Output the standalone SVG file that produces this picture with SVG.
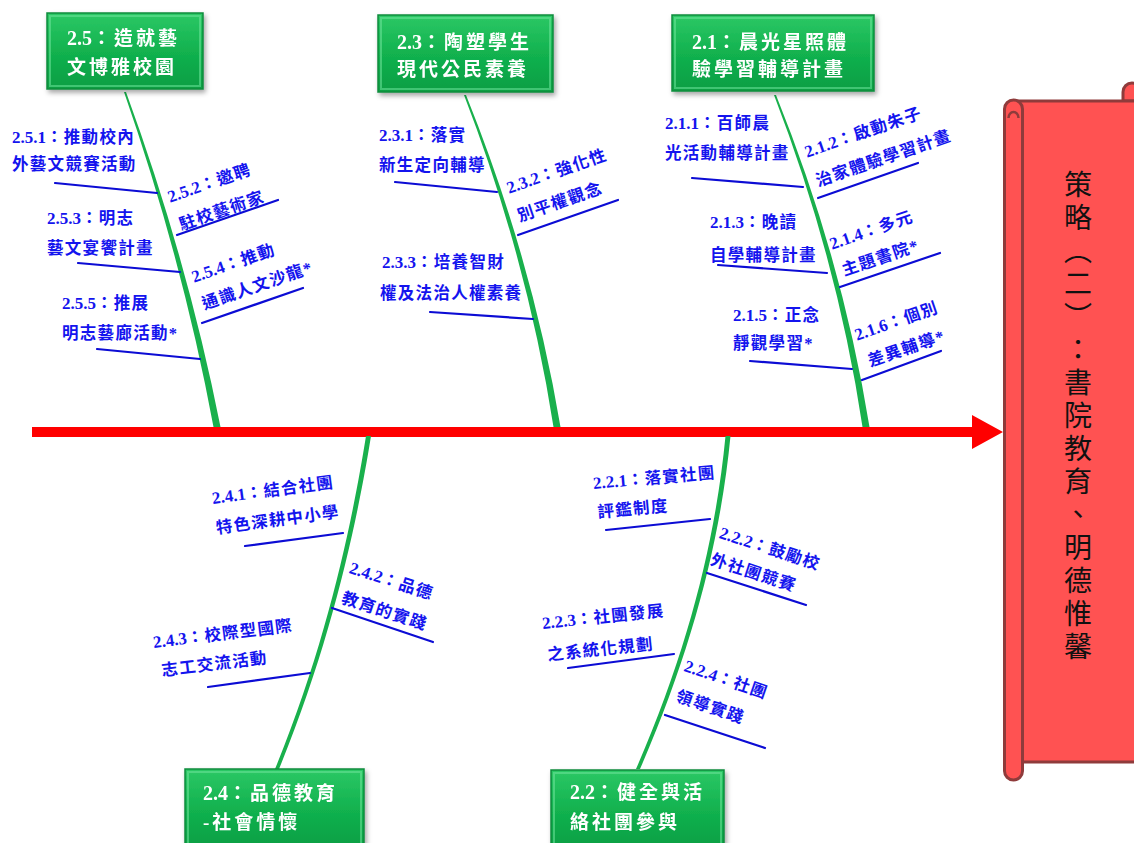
<svg xmlns="http://www.w3.org/2000/svg" width="1134" height="843" viewBox="0 0 1134 843">
<defs>
<linearGradient id="gBox" x1="0" y1="0" x2="0" y2="1">
<stop offset="0" stop-color="#2cc865"/>
<stop offset="0.5" stop-color="#12b24f"/>
<stop offset="1" stop-color="#0a9e43"/>
</linearGradient>
<filter id="sh" x="-10%" y="-10%" width="130%" height="140%">
<feDropShadow dx="2" dy="3" stdDeviation="2.5" flood-color="#000" flood-opacity="0.35"/>
</filter>
<style>
.box{fill:url(#gBox);stroke:#0b8c3c;stroke-width:1.5}
.bev{fill:none;stroke:#6fe39a;stroke-opacity:0.55;stroke-width:2}
.bt{font-family:"Liberation Serif","Noto Sans CJK TC",serif;font-weight:700;font-size:19px;letter-spacing:3px;fill:#ffffff}
.bt .n{letter-spacing:0;font-size:20px}
.lb{font-family:"Liberation Serif","Noto Sans CJK TC",serif;font-weight:700;font-size:16.5px;letter-spacing:1.3px;fill:#1414ee}
.lb .n{letter-spacing:0;font-size:17px}
.bl{stroke:#0c0cd4;stroke-width:2.2;fill:none;stroke-linecap:round}
.sp{fill:#19b04c}
.scr{fill:#ff5252;stroke:#8f3b3b;stroke-width:3}
.vt{font-family:"Noto Sans CJK TC",sans-serif;font-size:28px;letter-spacing:5px;fill:#111;writing-mode:vertical-rl}
</style>
</defs>
<rect width="1134" height="843" fill="#ffffff"/>

<g id="scroll">
<path class="scr" d="M1123,101 V92 A9,9 0 0 1 1141,92 V101 Z"/>
<rect class="scr" x="1018" y="101" width="130" height="661"/>
<rect class="scr" x="1004.5" y="100" width="18" height="680" rx="9"/>
<path d="M1008.5,118 A5,6 0 1 1 1018.5,118" fill="none" stroke="#8f3b3b" stroke-width="2.5"/>
<text class="vt" x="1078" y="170">策略（二）：書院教育、明德惟馨</text>
</g>

<g id="connectors">
<path d="M32,427 H972 V415 L1003,432 L972,449 V437 H32 Z" fill="#ff0000"/>
<path class="sp" d="M124,92 Q182.5,260 213.5,427 L220.5,427 Q187.5,260 126,92 Z"/>
<path class="sp" d="M464,95 Q527.5,260 553.5,427 L560.5,427 Q532.5,260 466,95 Z"/>
<path class="sp" d="M774,95 Q837.5,260 862.5,427 L869.5,427 Q842.5,260 776,95 Z"/>
<path class="sp" d="M366,436 C352.5,520 328,640 275,769 L279,769 C332,640 357.5,520 371,436 Z"/>
<path class="sp" d="M725.5,436 C715.5,540 688,650 636,769 L640,769 C692,650 720.5,540 730.5,436 Z"/>
<line class="bl" x1="55" y1="183" x2="157" y2="193"/>
<line class="bl" x1="177" y1="235" x2="278" y2="200"/>
<line class="bl" x1="78" y1="263" x2="180" y2="272"/>
<line class="bl" x1="202" y1="323" x2="303" y2="288"/>
<line class="bl" x1="97" y1="349" x2="200" y2="359"/>
<line class="bl" x1="395" y1="182" x2="497" y2="192"/>
<line class="bl" x1="518" y1="235" x2="618" y2="200"/>
<line class="bl" x1="430" y1="312" x2="533" y2="319"/>
<line class="bl" x1="692" y1="178" x2="803" y2="187"/>
<line class="bl" x1="818" y1="198" x2="918" y2="163"/>
<line class="bl" x1="718" y1="265" x2="827" y2="273"/>
<line class="bl" x1="840" y1="287" x2="940" y2="253"/>
<line class="bl" x1="750" y1="361" x2="852" y2="369"/>
<line class="bl" x1="862" y1="380" x2="941" y2="351"/>
<line class="bl" x1="245" y1="546" x2="343" y2="533"/>
<line class="bl" x1="332" y1="608" x2="433" y2="642"/>
<line class="bl" x1="208" y1="687" x2="310" y2="673"/>
<line class="bl" x1="606" y1="530" x2="710" y2="519"/>
<line class="bl" x1="707" y1="573" x2="806" y2="605"/>
<line class="bl" x1="568" y1="668" x2="674" y2="654"/>
<line class="bl" x1="665" y1="715" x2="765" y2="748"/>
</g>

<g id="n2-5" filter="url(#sh)">
<rect class="box" x="47" y="13" width="156" height="76"/>
<rect class="bev" x="50" y="16" width="150" height="70"/>
<text class="bt" x="67" y="45"><tspan class="n">2.5</tspan>：造就藝</text>
<text class="bt" x="67" y="74">文博雅校園</text>
</g>
<g id="n2-3" filter="url(#sh)">
<rect class="box" x="378" y="15" width="175" height="77"/>
<rect class="bev" x="381" y="18" width="169" height="71"/>
<text class="bt" x="397" y="49"><tspan class="n">2.3</tspan>：陶塑學生</text>
<text class="bt" x="397" y="76">現代公民素養</text>
</g>
<g id="n2-1" filter="url(#sh)">
<rect class="box" x="672" y="15" width="202" height="76"/>
<rect class="bev" x="675" y="18" width="196" height="70"/>
<text class="bt" x="692" y="49"><tspan class="n">2.1</tspan>：晨光星照體</text>
<text class="bt" x="692" y="76">驗學習輔導計畫</text>
</g>
<g id="n2-4" filter="url(#sh)">
<rect class="box" x="185" y="769" width="179" height="80"/>
<rect class="bev" x="188" y="772" width="173" height="74"/>
<text class="bt" x="203" y="800"><tspan class="n">2.4</tspan>：品德教育</text>
<text class="bt" x="203" y="829">-社會情懷</text>
</g>
<g id="n2-2" filter="url(#sh)">
<rect class="box" x="551" y="770" width="173" height="80"/>
<rect class="bev" x="554" y="773" width="167" height="74"/>
<text class="bt" x="570" y="799"><tspan class="n">2.2</tspan>：健全與活</text>
<text class="bt" x="570" y="829">絡社團參與</text>
</g>

<g id="l2-5-1"><text class="lb" x="12" y="143"><tspan class="n">2.5.1</tspan>：推動校內</text><text class="lb" x="12" y="170">外藝文競賽活動</text></g>
<g id="l2-5-2" transform="translate(168,197) rotate(-19)"><text class="lb" x="0" y="6"><tspan class="n">2.5.2</tspan>：邀聘</text><text class="lb" x="2" y="36">駐校藝術家</text></g>
<g id="l2-5-3"><text class="lb" x="47" y="224"><tspan class="n">2.5.3</tspan>：明志</text><text class="lb" x="47" y="254">藝文宴饗計畫</text></g>
<g id="l2-5-4" transform="translate(192,277) rotate(-19)"><text class="lb" x="0" y="6"><tspan class="n">2.5.4</tspan>：推動</text><text class="lb" x="1" y="35">通識人文沙龍*</text></g>
<g id="l2-5-5"><text class="lb" x="62" y="309"><tspan class="n">2.5.5</tspan>：推展</text><text class="lb" x="62" y="339">明志藝廊活動*</text></g>

<g id="l2-3-1"><text class="lb" x="379" y="141"><tspan class="n">2.3.1</tspan>：落實</text><text class="lb" x="379" y="171">新生定向輔導</text></g>
<g id="l2-3-2" transform="translate(507,188) rotate(-19)"><text class="lb" x="0" y="6"><tspan class="n">2.3.2</tspan>：強化性</text><text class="lb" x="1" y="36">別平權觀念</text></g>
<g id="l2-3-3"><text class="lb" x="382" y="268"><tspan class="n">2.3.3</tspan>：培養智財</text><text class="lb" x="380" y="299">權及法治人權素養</text></g>

<g id="l2-1-1"><text class="lb" x="665" y="129"><tspan class="n">2.1.1</tspan>：百師晨</text><text class="lb" x="665" y="159">光活動輔導計畫</text></g>
<g id="l2-1-2" transform="translate(805,152) rotate(-19)"><text class="lb" x="0" y="6"><tspan class="n">2.1.2</tspan>：啟動朱子</text><text class="lb" x="1" y="37">治家體驗學習計畫</text></g>
<g id="l2-1-3"><text class="lb" x="710" y="228"><tspan class="n">2.1.3</tspan>：晚讀</text><text class="lb" x="710" y="261">自學輔導計畫</text></g>
<g id="l2-1-4" transform="translate(830,244) rotate(-19)"><text class="lb" x="0" y="6"><tspan class="n">2.1.4</tspan>：多元</text><text class="lb" x="3" y="35">主題書院*</text></g>
<g id="l2-1-5"><text class="lb" x="733" y="321"><tspan class="n">2.1.5</tspan>：正念</text><text class="lb" x="733" y="349">靜觀學習*</text></g>
<g id="l2-1-6" transform="translate(855,335) rotate(-19)"><text class="lb" x="0" y="6"><tspan class="n">2.1.6</tspan>：個別</text><text class="lb" x="4" y="35">差異輔導*</text></g>

<g id="l2-4-1" transform="translate(212,498) rotate(-7.6)"><text class="lb" x="0" y="6"><tspan class="n">2.4.1</tspan>：結合社團</text><text class="lb" x="0" y="36">特色深耕中小學</text></g>
<g id="l2-4-2" transform="translate(350,567) rotate(18)"><text class="lb" x="0" y="6"><tspan class="n">2.4.2</tspan>：品德</text><text class="lb" x="2" y="37">教育的實踐</text></g>
<g id="l2-4-3" transform="translate(153,642) rotate(-7)"><text class="lb" x="0" y="6"><tspan class="n">2.4.3</tspan>：校際型國際</text><text class="lb" x="5" y="35">志工交流活動</text></g>

<g id="l2-2-1" transform="translate(593,483) rotate(-5)"><text class="lb" x="0" y="6"><tspan class="n">2.2.1</tspan>：落實社團</text><text class="lb" x="2" y="35">評鑑制度</text></g>
<g id="l2-2-2" transform="translate(720,532) rotate(18)"><text class="lb" x="0" y="6"><tspan class="n">2.2.2</tspan>：鼓勵校</text><text class="lb" x="0" y="34">外社團競賽</text></g>
<g id="l2-2-3" transform="translate(542,623) rotate(-6)"><text class="lb" x="0" y="6"><tspan class="n">2.2.3</tspan>：社團發展</text><text class="lb" x="2" y="38">之系統化規劃</text></g>
<g id="l2-2-4" transform="translate(685,665) rotate(19)"><text class="lb" x="0" y="6"><tspan class="n">2.2.4</tspan>：社團</text><text class="lb" x="2" y="37">領導實踐</text></g>
</svg>
